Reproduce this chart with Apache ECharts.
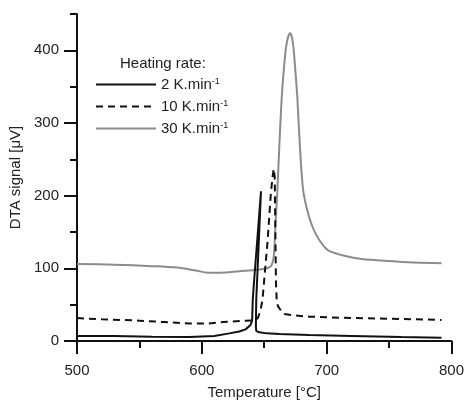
<!DOCTYPE html>
<html>
<head>
<meta charset="UTF-8">
<title>DTA signal</title>
<script src="https://cdn.jsdelivr.net/npm/echarts@6/dist/echarts.min.js"></script>
<style>
  html, body { margin: 0; padding: 0; background: #fff; }
  #chart { width: 467px; height: 405px; }
</style>
</head>
<body>
<div id="chart"></div>
<script>
// 2 K.min-1
var t2 = [500, 530, 560, 590, 610, 622, 630, 635, 639, 640.3, 640.8, 642.5, 644.5, 646.5, 647.4, 646.5, 645.5, 644.5, 643.6, 643.3, 643.6, 646, 652, 662, 686, 720, 760, 792];
var v2 = [7, 6.8, 6, 5.5, 7, 10.5, 13, 16, 22, 28, 57, 97, 141, 186, 206, 171, 131, 92, 57, 20, 14, 12, 10.5, 9.7, 8.4, 7, 5.5, 4.5];
// 10 K.min-1
var t10 = [500, 520, 550, 570, 590, 605, 620, 635, 642.8, 645, 647, 648.6, 652.6, 655.3, 656.6, 657.6, 658.4, 658.9, 659.4, 660, 661, 662.5, 666, 675, 686, 710, 740, 770, 792];
var v10 = [31.5, 30, 28, 26, 24, 24, 26.5, 28, 28.5, 32, 42, 57, 136, 203, 225, 237, 226, 150, 80, 55, 48, 44, 37, 35, 33.5, 32, 31, 30, 29];
// 30 K.min-1
var t30 = [500, 530, 560, 580, 595, 605, 615, 630, 645, 652, 655.3, 657, 658, 659, 660.4, 662, 664, 666, 668, 670.7, 673, 675, 676.5, 678.5, 681, 684, 688, 692, 697, 702, 715, 728, 750, 770, 792];
var v30 = [106, 105, 103, 101, 97, 94, 94, 96, 98, 100, 103, 110, 123, 160, 203, 265, 335, 380, 410, 424, 410, 370, 335, 270, 210, 183, 160, 145, 132, 124, 117, 113, 110, 108, 107];

var seriesNames = ['2 K.min', '10 K.min', '30 K.min'];
var yMajor = [0, 100, 200, 300, 400];

function zip(a, b) {
  return a.map(function (x, i) { return [x, b[i]]; });
}

var font = 'Liberation Sans';
var chart = echarts.init(document.getElementById('chart'), null, {renderer: 'canvas'});

var option = {
  backgroundColor: '#fff',
  animation: false,
  textStyle: { fontFamily: font },
  title: {
    text: 'Heating rate:',
    left: 120,
    top: 56,
    textStyle: { fontFamily: font, fontSize: 15, fontWeight: 'normal', color: '#222' },
    padding: 0
  },
  legend: {
    orient: 'vertical',
    left: 95,
    top: 77,
    itemWidth: 60,
    itemHeight: 14,
    itemGap: 7,
    padding: 0,
    data: seriesNames,
    itemStyle: { opacity: 0 },
    formatter: function (name) { return '{b|' + name + '}{s|-1}'; },
    textStyle: {
      fontFamily: font,
      color: '#222',
      rich: {
        b: { fontSize: 15, fontFamily: font, color: '#222' },
        s: { fontSize: 9, fontFamily: font, color: '#222', verticalAlign: 'top', padding: [0, 0, 6, 0] }
      }
    }
  },
  grid: { left: 77, right: 14, top: 14, bottom: 52 },
  xAxis: [{
    type: 'value',
    min: 500, max: 800, interval: 100,
    name: 'Temperature [°C]',
    nameLocation: 'middle',
    nameGap: 44,
    nameTextStyle: { fontFamily: font, fontSize: 15, color: '#222' },
    splitLine: { show: false },
    axisLine: { onZero: false, lineStyle: { color: '#111', width: 2 } },
    axisTick: { length: 13, lineStyle: { color: '#111', width: 2 } },
    axisLabel: { margin: 22, fontFamily: font, fontSize: 15, color: '#222' }
  }, {
    type: 'value',
    min: 500, max: 800, interval: 50,
    position: 'bottom',
    splitLine: { show: false },
    axisLine: { show: false },
    axisTick: { length: 7, lineStyle: { color: '#111', width: 2 } },
    axisLabel: { show: false }
  }],
  yAxis: [{
    type: 'value',
    min: 0, max: 450, interval: 50,
    name: 'DTA signal [μV]',
    nameLocation: 'middle',
    nameGap: 49,
    nameTextStyle: { fontFamily: font, fontSize: 15, color: '#222' },
    splitLine: { show: false },
    axisLine: { show: true, lineStyle: { color: '#111', width: 2 } },
    axisTick: { show: true, length: 13, customValues: yMajor, lineStyle: { color: '#111', width: 2 } },
    axisLabel: { margin: 18, customValues: yMajor, fontFamily: font, fontSize: 15, color: '#222' }
  }, {
    type: 'value',
    min: 0, max: 450, interval: 50,
    position: 'left',
    splitLine: { show: false },
    axisLine: { show: false },
    axisTick: { show: true, length: 7, lineStyle: { color: '#111', width: 2 } },
    axisLabel: { show: false }
  }],
  series: [{
    name: seriesNames[0],
    type: 'line',
    data: zip(t2, v2),
    symbol: 'none',
    lineStyle: { color: '#111', width: 2 },
    itemStyle: { color: '#111' },
    z: 4
  }, {
    name: seriesNames[1],
    type: 'line',
    data: zip(t10, v10),
    symbol: 'none',
    lineStyle: { color: '#111', width: 2, type: [7, 5] },
    itemStyle: { color: '#111' },
    z: 3
  }, {
    name: seriesNames[2],
    type: 'line',
    data: zip(t30, v30),
    symbol: 'none',
    smooth: 0.3,
    lineStyle: { color: '#8c8c8c', width: 2 },
    itemStyle: { color: '#8c8c8c' },
    z: 2
  }]
};

chart.setOption(option);
</script>
</body>
</html>
